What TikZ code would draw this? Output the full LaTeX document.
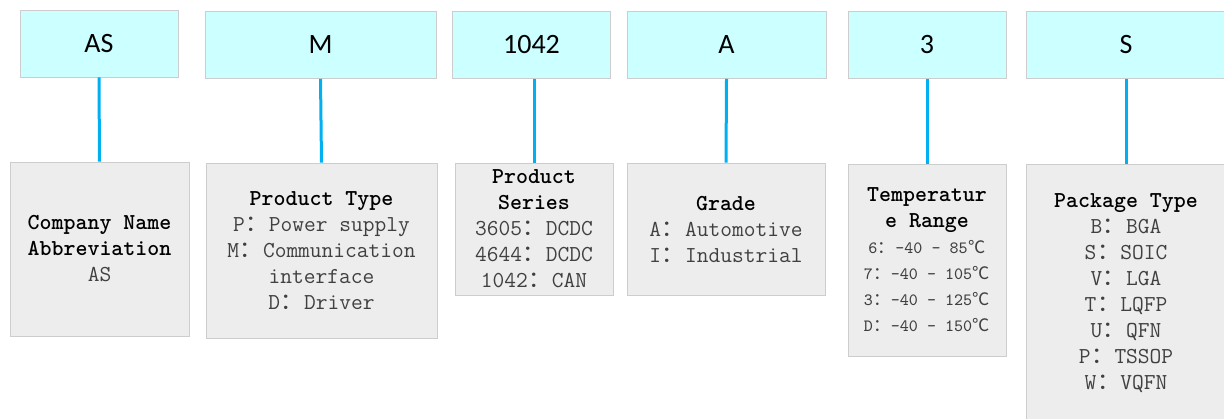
\documentclass[tikz,border=0pt]{standalone}
\usepackage{fontspec}
\newfontfamily\codefont{Carlito}
\newfontfamily\cjk{Noto Sans CJK SC}
\newcommand{\fc}{\makebox[1.05em]{\cjk ：}}
\newcommand{\degc}{\makebox[1.05em]{\cjk ℃}}
\newcommand{\ttl}[1]{{\color{black}\bfseries #1}}
\newcommand{\tsm}[1]{{\fontsize{8.6}{13}\selectfont #1}}
\definecolor{codefill}{HTML}{CCFFFF}
\definecolor{infofill}{HTML}{EDEDED}
\definecolor{boxline}{HTML}{CDCDCD}
\definecolor{infotext}{HTML}{404040}
\definecolor{linkblue}{HTML}{00B0F0}

\begin{document}
\begin{tikzpicture}[x=0.5pt, y=-0.5pt,
code node/.style={rectangle, draw=boxline, fill=codefill, minimum height=33.5pt, inner sep=0pt, font=\codefont\fontsize{14}{16}\selectfont},
info node/.style={rectangle, draw=boxline, fill=infofill, align=center, inner sep=0pt, text=infotext, font=\ttfamily\fontsize{11.4}{13}\selectfont},
link/.style={-, draw=linkblue, line width=1.5pt}]
\useasboundingbox (0,0) rectangle (1224,418);
\clip (0,0) rectangle (1224,418);

% code part
\node[code node, minimum width=79pt] (c0) at (99, 43.5) {AS};
\node[code node, minimum width=115.5pt] (c1) at (320.5, 45) {M};
\node[code node, minimum width=79pt] (c2) at (531.5, 45) {1042};
\node[code node, minimum width=99.5pt] (c3) at (726.5, 45) {A};
\node[code node, minimum width=79pt] (c4) at (927, 45) {3};
\node[code node, minimum width=100pt] (c5) at (1126, 45) {S};

% meaning of each part
\node[info node, minimum width=89.5pt, minimum height=87pt] (d0) at (99.5, 249)
  {\ttl{Company Name}\\\ttl{Abbreviation}\\AS};

\node[info node, minimum width=115.5pt, minimum height=87.5pt] (d1) at (321.5, 250.5)
  {\ttl{Product Type}\\P\fc Power supply\\M\fc Communication\\interface\\D\fc Driver};

\node[info node, minimum width=79pt, minimum height=66pt] (d2) at (534, 229)
  {\ttl{Product}\\\ttl{Series}\\3605\fc DCDC\\4644\fc DCDC\\1042\fc CAN};

\node[info node, minimum width=99pt, minimum height=66pt] (d3) at (726, 229)
  {\ttl{Grade}\\A\fc Automotive\\I\fc Industrial};

\node[info node, minimum width=79pt, minimum height=96pt] (d4) at (927, 260)
  {\ttl{Temperatur}\\\ttl{e Range}\\\tsm{6\fc -40 - 85\degc}\\\tsm{7\fc -40 - 105\degc}\\\tsm{3\fc -40 - 125\degc}\\\tsm{D\fc -40 - 150\degc}};

\node[info node, minimum width=100pt, minimum height=129.5pt] (d5) at (1126, 293.5)
  {\ttl{Package Type}\\B\fc BGA\\S\fc SOIC\\V\fc LGA\\T\fc LQFP\\U\fc QFN\\P\fc TSSOP\\W\fc VQFN};

\path[]
% code part -> meaning
(c0.south) [link] edge node [] {} (d0.north)
(c1.south) [link] edge node [] {} (d1.north)
(d2.north) [link] edge node [] {} (d2.north |- c2.south)
(c3.south) [link] edge node [] {} (d3.north)
(c4.south) [link] edge node [] {} (d4.north)
(c5.south) [link] edge node [] {} (d5.north)
;

\end{tikzpicture}
\end{document}
